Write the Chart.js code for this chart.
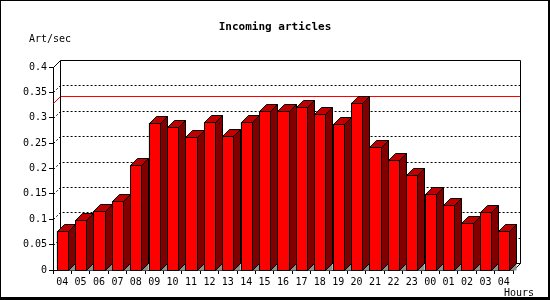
<!DOCTYPE html>
<html>
<head>
<meta charset="utf-8">
<script src="https://cdn.jsdelivr.net/npm/chart.js@4.4.1/dist/chart.umd.min.js"></script>
<style>
html,body{margin:0;padding:0;background:#fff;}
canvas{display:block;}
</style>
</head>
<body>
<canvas id="c" width="550" height="300"></canvas>
<script>
const chartTitle = 'Incoming articles';
const yAxisTitle = 'Art/sec';
const xAxisTitle = 'Hours';
const hours = ['04','05','06','07','08','09','10','11','12','13','14','15','16','17','18','19','20','21','22','23','00','01','02','03','04'];
const rates = [0.077,0.098,0.116,0.135,0.206,0.290,0.281,0.262,0.291,0.265,0.291,0.313,0.313,0.321,0.307,0.288,0.330,0.242,0.216,0.187,0.149,0.129,0.092,0.114,0.076];
const yTickLabels = ['0','0.05','0.1','0.15','0.2','0.25','0.3','0.35','0.4'];
const yMin = 0, yMax = 0.4, yStep = 0.05;

const DEPTH = 7;
const FONT = '"DejaVu Sans Mono", monospace';

const threeD = {
  id: 'threeD',
  beforeDraw(chart) {
    const ctx = chart.ctx;
    ctx.save();
    ctx.fillStyle = '#fff';
    ctx.fillRect(0, 0, chart.width, chart.height);
    ctx.restore();
  },
  beforeDatasetsDraw(chart) {
    const {ctx, chartArea, scales} = chart;
    const y = scales.y;
    const L = Math.round(chartArea.left) + 0.5;
    const R = Math.round(chartArea.right) + 0.5;
    const T = Math.round(chartArea.top) + 0.5;
    const B = Math.round(chartArea.bottom) + 0.5;
    ctx.save();
    ctx.lineWidth = 1;
    ctx.strokeStyle = '#000';
    // dotted grid on back wall
    ctx.setLineDash([2, 2]);
    y.ticks.forEach(t => {
      if (t.value <= yMin || t.value >= yMax) return;
      const py = Math.round(y.getPixelForValue(t.value)) + 0.5;
      ctx.beginPath();
      ctx.moveTo(L, py);
      ctx.lineTo(L + DEPTH, py - DEPTH);
      ctx.lineTo(R + DEPTH, py - DEPTH);
      ctx.stroke();
    });
    ctx.setLineDash([]);
    // max line
    const my = Math.round(y.getPixelForValue(Math.max(...rates))) + 0.5;
    ctx.strokeStyle = '#f00';
    ctx.beginPath();
    ctx.moveTo(L, my);
    ctx.lineTo(L + DEPTH, my - DEPTH);
    ctx.lineTo(R + DEPTH, my - DEPTH);
    ctx.stroke();
    // wall outline
    ctx.strokeStyle = '#000';
    ctx.beginPath();
    ctx.moveTo(L, T);
    ctx.lineTo(L + DEPTH, T - DEPTH);
    ctx.lineTo(R + DEPTH, T - DEPTH);
    ctx.lineTo(R + DEPTH, B - DEPTH);
    ctx.lineTo(R, B);
    ctx.moveTo(L + DEPTH, T - DEPTH);
    ctx.lineTo(L + DEPTH, B - DEPTH);
    ctx.lineTo(R + DEPTH, B - DEPTH);
    ctx.stroke();
    ctx.restore();
  },
  afterDatasetsDraw(chart) {
    const ctx = chart.ctx;
    const meta = chart.getDatasetMeta(0);
    ctx.save();
    ctx.lineWidth = 1;
    ctx.strokeStyle = '#000';
    meta.data.forEach(bar => {
      const p = bar.getProps(['x', 'y', 'width', 'base'], true);
      const xl = Math.round(p.x - p.width / 2) + 0.5;
      const xr = Math.round(p.x + p.width / 2) + 0.5;
      const ty = Math.round(p.y) + 0.5;
      const by = Math.round(p.base) + 0.5;
      // floor shadow
      ctx.fillStyle = '#909090';
      ctx.beginPath();
      ctx.moveTo(xr, by);
      ctx.lineTo(xr + DEPTH, by - DEPTH);
      ctx.lineTo(xr + DEPTH, by);
      ctx.closePath();
      ctx.fill();
      // side
      ctx.fillStyle = '#800000';
      ctx.beginPath();
      ctx.moveTo(xr, ty);
      ctx.lineTo(xr + DEPTH, ty - DEPTH);
      ctx.lineTo(xr + DEPTH, by - DEPTH);
      ctx.lineTo(xr, by);
      ctx.closePath();
      ctx.fill();
      ctx.stroke();
      // top
      ctx.fillStyle = '#c00000';
      ctx.beginPath();
      ctx.moveTo(xl, ty);
      ctx.lineTo(xl + DEPTH, ty - DEPTH);
      ctx.lineTo(xr + DEPTH, ty - DEPTH);
      ctx.lineTo(xr, ty);
      ctx.closePath();
      ctx.fill();
      ctx.stroke();
      // front
      ctx.fillStyle = '#ff0000';
      ctx.beginPath();
      ctx.rect(xl, ty, xr - xl, by - ty);
      ctx.fill();
      ctx.stroke();
    });
    ctx.restore();
  },
  afterDraw(chart) {
    const ctx = chart.ctx;
    ctx.save();
    ctx.fillStyle = '#000';
    ctx.textBaseline = 'alphabetic';
    ctx.font = 'bold 11px ' + FONT;
    ctx.textAlign = 'center';
    ctx.fillText(chartTitle, 275, 30);
    ctx.font = '10px ' + FONT;
    ctx.textAlign = 'left';
    ctx.fillText(yAxisTitle, 29, 42);
    ctx.textAlign = 'right';
    ctx.fillText(xAxisTitle, 534, 296);
    // frame
    ctx.strokeStyle = '#000';
    ctx.lineWidth = 1;
    ctx.strokeRect(0.5, 0.5, 548, 297);
    ctx.fillRect(0, 298, 550, 2);
    ctx.fillRect(548, 0, 2, 300);
    ctx.restore();
  }
};

new Chart(document.getElementById('c'), {
  type: 'bar',
  data: {
    labels: hours,
    datasets: [{
      data: rates,
      backgroundColor: '#ff0000',
      borderColor: '#000',
      borderWidth: 1,
      barPercentage: 0.6,
      categoryPercentage: 1.0
    }]
  },
  options: {
    responsive: false,
    animation: false,
    devicePixelRatio: 1,
    layout: { padding: { left: 0, top: 67, right: 37, bottom: 0 } },
    plugins: { legend: { display: false }, tooltip: { enabled: false }, title: { display: false } },
    font: { family: FONT, size: 10 },
    scales: {
      x: {
        afterFit(s) { s.height = 30; },
        grid: { drawOnChartArea: false, tickLength: 4, color: '#000', offset: true },
        border: { color: '#000', width: 1 },
        ticks: { color: '#000', font: { family: FONT, size: 10 }, padding: 2, autoSkip: false, maxRotation: 0 }
      },
      y: {
        min: yMin, max: yMax,
        afterFit(s) { s.width = 53; },
        grid: { drawOnChartArea: false, tickLength: 4, color: '#000' },
        border: { color: '#000', width: 1 },
        ticks: {
          stepSize: yStep, color: '#000', font: { family: FONT, size: 10 }, padding: 2,
          callback: (v, i) => yTickLabels[i]
        }
      }
    }
  },
  plugins: [threeD]
});
</script>
</body>
</html>
